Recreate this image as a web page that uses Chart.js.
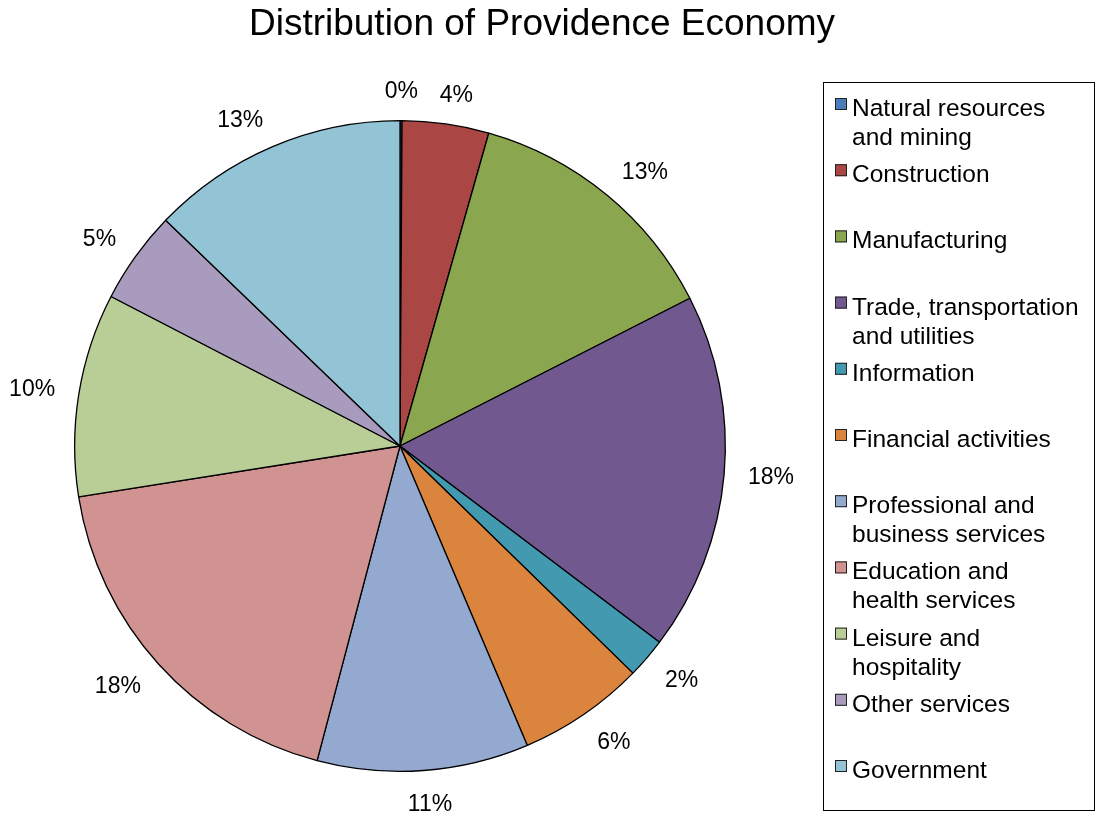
<!DOCTYPE html>
<html>
<head>
<meta charset="utf-8">
<title>Distribution of Providence Economy</title>
<script src="https://cdn.jsdelivr.net/npm/chart.js@4.4.1/dist/chart.umd.min.js"></script>
<style>
    html, body { margin: 0; padding: 0; background: #fff; }
    #wrap { width: 1102px; height: 820px; }
</style>
</head>
<body>
<div id="wrap"><canvas id="pieChart" width="1102" height="820"></canvas></div>
<script>
const chartTitle = 'Distribution of Providence Economy';
const categories = [
    ['Natural resources', 'and mining'],
    'Construction',
    'Manufacturing',
    ['Trade, transportation', 'and utilities'],
    'Information',
    'Financial activities',
    ['Professional and', 'business services'],
    ['Education and', 'health services'],
    ['Leisure and', 'hospitality'],
    'Other services',
    'Government'
];
// share of employment, percent
const shares = [0.1, 4.3, 13.1, 17.8, 2.0, 6.3, 10.5, 18.4, 10.1, 4.6, 12.8];
const sliceColors = ['#4a7ebb', '#aa4644', '#8aa64e', '#71588f', '#4299b0', '#db843d',
                     '#94a9d0', '#d19392', '#b9cd97', '#a99bbd', '#92c4d6'];

const FONT = '"Liberation Sans", Arial, Helvetica, sans-serif';
const clamp1 = v => Math.max(-1, Math.min(1, v));

// --- title, outside labels and boxed legend ---
const decorPlugin = {
    id: 'decor',
    afterDraw(chart) {
        const ctx = chart.ctx;
        ctx.save();

        // title
        ctx.fillStyle = '#000';
        ctx.font = '37px ' + FONT;
        ctx.textAlign = 'center';
        ctx.textBaseline = 'alphabetic';
        ctx.fillText(chartTitle, 542, 35);

        // percent labels, pushed out like excel does
        ctx.font = '23px ' + FONT;
        ctx.textBaseline = 'middle';
        const arcs = chart.getDatasetMeta(0).data;
        arcs.forEach((arc, i) => {
            const mid = (arc.startAngle + arc.endAngle) / 2;
            const txt = Math.round(shares[i]) + '%';
            const w = ctx.measureText(txt).width;
            const c = Math.cos(mid), s = Math.sin(mid);
            const r = arc.outerRadius + 24;
            const ox = clamp1(c * 3) * w / 2;
            const oy = s > 0 ? s * 10 : s * 4.5;
            ctx.fillText(txt, arc.x + c * r + ox, arc.y + s * r + oy);
        });

        // legend box
        ctx.strokeStyle = '#000';
        ctx.lineWidth = 1;
        ctx.strokeRect(823.5, 82.5, 271, 728);
        ctx.font = '24.5px ' + FONT;
        ctx.textAlign = 'left';
        ctx.textBaseline = 'alphabetic';
        categories.forEach((cat, i) => {
            const base = 116 + i * 66.2;
            const lines = Array.isArray(cat) ? cat : [cat];
            ctx.fillStyle = sliceColors[i];
            ctx.fillRect(835, base - 18, 12, 12);
            ctx.strokeStyle = '#222';
            ctx.strokeRect(835.5, base - 17.5, 11, 11);
            ctx.fillStyle = '#000';
            lines.forEach((ln, j) => ctx.fillText(ln, 852, base + j * 29));
        });
        ctx.restore();
    }
};

new Chart(document.getElementById('pieChart'), {
    type: 'pie',
    data: {
        labels: categories,
        datasets: [{
            data: shares,
            backgroundColor: sliceColors,
            borderColor: '#000',
            borderWidth: 1.3
        }]
    },
    options: {
        responsive: false,
        animation: false,
        devicePixelRatio: 1,
        layout: { padding: { left: 74, right: 376, top: 120, bottom: 48 } },
        plugins: {
            legend: { display: false },
            title: { display: false },
            tooltip: { enabled: false }
        }
    },
    plugins: [decorPlugin]
});
</script>
</body>
</html>
